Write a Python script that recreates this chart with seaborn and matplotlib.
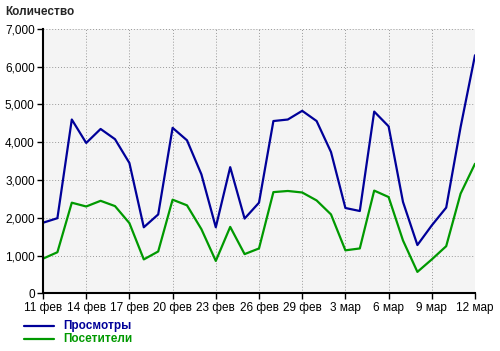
import matplotlib
matplotlib.use("Agg")
import matplotlib.pyplot as plt
import matplotlib.ticker as mticker
from matplotlib.lines import Line2D
import seaborn as sns
import pandas as pd

dates = pd.date_range("2012-02-11", "2012-03-12", freq="D")
views = [1870, 1990, 4600, 3980, 4350, 4080, 3450, 1750, 2090, 4380,
         4050, 3150, 1750, 3340, 1980, 2400, 4560, 4600, 4830, 4560,
         3740, 2260, 2180, 4810, 4420, 2420, 1280, 1800, 2270, 4400, 6300]
visitors = [920, 1090, 2400, 2300, 2450, 2310, 1860, 900, 1110, 2480,
            2330, 1700, 860, 1760, 1040, 1190, 2680, 2710, 2670, 2460,
            2090, 1140, 1190, 2720, 2550, 1400, 570, 900, 1250, 2640, 3430]
series_names = ["Просмотры", "Посетители"]
colors = ["#000099", "#009900"]
tick_labels = ["11 фев", "14 фев", "17 фев", "20 фев", "23 фев", "26 фев",
               "29 фев", "3 мар", "6 мар", "9 мар", "12 мар"]
y_label = "Количество"

sns.set_theme(style="white")
plt.rcParams['font.family'] = ['Liberation Sans', 'DejaVu Sans']

df = pd.DataFrame({
    "day": list(range(len(dates))) * 2,
    "value": views + visitors,
    "series": [series_names[0]] * len(views) + [series_names[1]] * len(visitors),
})

fig = plt.figure(figsize=(5.0, 3.51), dpi=100)
ax = fig.add_axes([0.086, 0.164, 0.864, 0.754])
ax.set_facecolor("#f4f4f4")

sns.lineplot(data=df, x="day", y="value", hue="series", palette=colors,
             linewidth=1.6, ax=ax, legend=False)

ax.set_xlim(0, len(dates) - 1)
ax.set_ylim(0, 7000)
ax.set_xticks(range(0, len(dates), 3))
ax.set_xticklabels(tick_labels)
ax.yaxis.set_major_locator(mticker.MultipleLocator(1000))
ax.yaxis.set_major_formatter(mticker.FuncFormatter(lambda v, p: f"{int(v):,}"))
ax.grid(True, color="#999999", linestyle=(0, (1, 2)), linewidth=0.7)
ax.set_xlabel("")
ax.set_ylabel("")
for s in ["top", "right"]:
    ax.spines[s].set_visible(False)
for s in ["left", "bottom"]:
    ax.spines[s].set_color("black")
    ax.spines[s].set_linewidth(1.5)
ax.tick_params(axis="both", which="both", direction="out", length=4, width=1,
               color="black", labelsize=8.5, labelcolor="black", pad=2,
               left=True, bottom=True)

fig.text(0.01, 0.965, y_label, fontsize=8.5, fontweight="bold", ha="left", va="center")

for i, (name, c) in enumerate(zip(series_names, colors)):
    yy = 1 - (326 + i * 13) / 351
    fig.add_artist(Line2D([24 / 500, 54 / 500], [yy, yy], color=c, linewidth=1.6))
    fig.text(63 / 500, yy, name, color=c, fontsize=8.5, fontweight="bold",
             ha="left", va="center")

fig.savefig("out.png", dpi=100)
